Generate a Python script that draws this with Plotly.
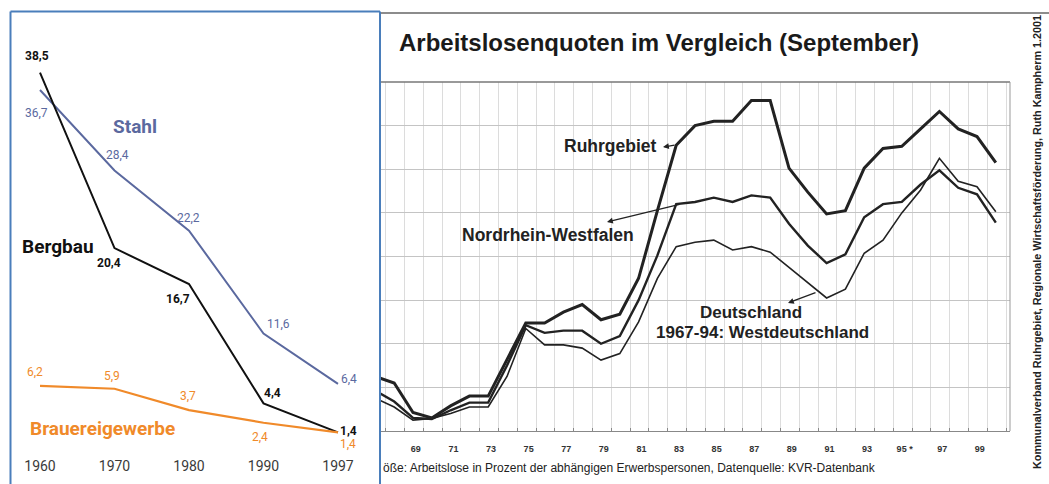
import plotly.graph_objects as go

W, H = 1049, 484

# ---------------- left chart data ----------------
left_years = ["1960", "1970", "1980", "1990", "1997"]
bergbau = [38.5, 20.4, 16.7, 4.4, 1.4]
stahl = [36.7, 28.4, 22.2, 11.6, 6.4]
brauerei = [6.2, 5.9, 3.7, 2.4, 1.4]

# ---------------- right chart data ----------------
years_r = list(range(1967, 2001))
ruhr = [2.5, 2.2, 0.85, 0.6, 1.15, 1.6, 1.6, 3.3, 4.95, 4.95, 5.45, 5.8, 5.1, 5.35,
        7.0, 10.1, 13.1, 14.0, 14.2, 14.2, 15.15, 15.15, 12.05, 10.95, 9.95, 10.1,
        12.05, 12.95, 13.05, 13.85, 14.65, 13.85, 13.5, 12.3]
nrw = [1.85, 1.35, 0.6, 0.55, 0.95, 1.3, 1.3, 3.0, 4.85, 4.5, 4.6, 4.6, 4.0, 4.35,
       6.0, 8.05, 10.4, 10.5, 10.7, 10.5, 10.8, 10.7, 9.5, 8.5, 7.7, 8.1,
       9.8, 10.4, 10.5, 11.3, 11.95, 11.15, 10.85, 9.55]
deutschland = [1.5, 1.1, 0.5, 0.58, 0.8, 1.1, 1.1, 2.5, 4.7, 3.95, 3.95, 3.8, 3.25, 3.55,
               5.0, 7.0, 8.45, 8.65, 8.75, 8.3, 8.45, 8.2, 7.5, 6.8, 6.1, 6.5,
               8.15, 8.75, 10.0, 11.05, 12.5, 11.45, 11.2, 10.05]
tick_years = [1969, 1971, 1973, 1975, 1977, 1979, 1981, 1983, 1985, 1987, 1989,
              1991, 1993, 1995, 1997, 1999]
tick_labels = ["69", "71", "73", "75", "77", "79", "81", "83", "85", "87", "89",
               "91", "93", "95 *", "97", "99"]

BLUE = "#5b699f"
ORANGE = "#f08a2a"
BLACK = "#111111"
DARK = "#222222"

def px(x):
    return x / W

def py(y):
    return 1 - y / H

fig = go.Figure()

# left traces
fig.add_trace(go.Scatter(x=left_years, y=stahl, mode="lines", line=dict(color=BLUE, width=2),
                         xaxis="x", yaxis="y", hoverinfo="skip"))
fig.add_trace(go.Scatter(x=left_years, y=bergbau, mode="lines", line=dict(color=BLACK, width=2),
                         xaxis="x", yaxis="y", hoverinfo="skip"))
fig.add_trace(go.Scatter(x=left_years, y=brauerei, mode="lines", line=dict(color=ORANGE, width=2.2),
                         xaxis="x", yaxis="y", hoverinfo="skip"))

# right traces
fig.add_trace(go.Scatter(x=years_r, y=deutschland, mode="lines", line=dict(color=DARK, width=1.6),
                         xaxis="x2", yaxis="y2", hoverinfo="skip"))
fig.add_trace(go.Scatter(x=years_r, y=nrw, mode="lines", line=dict(color=DARK, width=2.4),
                         xaxis="x2", yaxis="y2", hoverinfo="skip"))
fig.add_trace(go.Scatter(x=years_r, y=ruhr, mode="lines", line=dict(color=DARK, width=3),
                         xaxis="x2", yaxis="y2", hoverinfo="skip"))

LBL = "Roboto, 'Liberation Sans', sans-serif"
ARIAL = "'Liberation Sans', Arial, sans-serif"

ann = []

def dlabel(i, y, text, color, xs, ys):
    # category axis: annotation x uses the category index
    ann.append(dict(x=i, y=y, xref="x", yref="y", text=text, showarrow=False,
                    xshift=xs, yshift=ys, font=dict(family=LBL, size=12, color=color),
                    xanchor="center", yanchor="middle"))

fmt = lambda v: f"{v:.1f}".replace(".", ",")
b_off = [(-3, 17), (-6, -15), (-11, -15), (9, 10), (10, 1)]
s_off = [(-4, -23), (3, 16), (-1, 13), (15, 9), (11, 5)]
r_off = [(-5, 14), (-3, 13), (-1, 14), (-4, -14), (10, -12)]
for i, yr in enumerate(left_years):
    dlabel(i, bergbau[i], "<b>" + fmt(bergbau[i]) + "</b>", BLACK, *b_off[i])
    dlabel(i, stahl[i], fmt(stahl[i]), BLUE, *s_off[i])
    dlabel(i, brauerei[i], fmt(brauerei[i]), ORANGE, *r_off[i])

def ptext(x, y, text, size, color, family=LBL, xanchor="center", angle=0):
    ann.append(dict(x=px(x), y=py(y), xref="paper", yref="paper", text=text, showarrow=False,
                    font=dict(family=family, size=size, color=color), xanchor=xanchor,
                    yanchor="middle", textangle=angle))

ptext(135, 126, "<b>Stahl</b>", 19, BLUE)
ptext(58, 246, "<b>Bergbau</b>", 19, BLACK)
ptext(102, 428, "<b>Brauereigewerbe</b>", 19, ORANGE)

# right side texts
ptext(397, 42, "<b>Arbeitslosenquoten im Vergleich (September)</b>", 24, "#1a1a1a", ARIAL, "left")
ptext(610, 146, "<b>Ruhrgebiet</b>", 17.5, DARK, ARIAL)
ptext(548, 235, "<b>Nordrhein-Westfalen</b>", 17.5, DARK, ARIAL)
ptext(751, 312, "<b>Deutschland</b>", 17, DARK, ARIAL)
ptext(762, 332, "<b>1967-94: Westdeutschland</b>", 17, DARK, ARIAL)
ptext(381, 468, "öße: Arbeitslose in Prozent der abhängigen Erwerbspersonen, Datenquelle: KVR-Datenbank",
      12, DARK, ARIAL, "left")
ptext(1037, 242, "<b>Kommunalverband Ruhrgebiet, Regionale Wirtschaftsförderung, Ruth Kampherm 1.2001</b>",
      10.8, DARK, ARIAL, "center", -90)

def arrow(hx, hy, tx, ty):
    ann.append(dict(x=px(hx), y=py(hy), xref="paper", yref="paper", ax=tx - hx, ay=ty - hy,
                    axref="pixel", ayref="pixel", text="", showarrow=True, arrowhead=2,
                    arrowsize=0.9, arrowwidth=1.3, arrowcolor=DARK))

arrow(663, 147, 676, 145)
arrow(607, 222, 681, 204)
arrow(788, 303, 817, 292)

shapes = [
    # blue frame of left panel
    dict(type="line", xref="paper", yref="paper", x0=px(10.5), x1=px(10.5), y0=py(11.5), y1=py(490),
         line=dict(color="#4a7ebb", width=2), layer="above"),
    dict(type="line", xref="paper", yref="paper", x0=px(10.5), x1=px(380), y0=py(11.5), y1=py(11.5),
         line=dict(color="#4a7ebb", width=2), layer="above"),
    dict(type="line", xref="paper", yref="paper", x0=px(380), x1=px(380), y0=py(11.5), y1=py(490),
         line=dict(color="#4a7ebb", width=2), layer="above"),
    # top border of scanned image
    dict(type="line", xref="paper", yref="paper", x0=px(381), x1=px(1049), y0=py(13), y1=py(13),
         line=dict(color="#666666", width=1.5)),
    # frame of right plot
    dict(type="line", xref="paper", yref="paper", x0=px(381), x1=px(1010), y0=py(82), y1=py(82),
         line=dict(color="#777777", width=1.5)),
    dict(type="line", xref="paper", yref="paper", x0=px(1010), x1=px(1010), y0=py(82), y1=py(431),
         line=dict(color="#999999", width=1)),
]

fig.update_layout(
    width=W, height=H, margin=dict(l=0, r=0, t=0, b=0),
    paper_bgcolor="white", plot_bgcolor="rgba(0,0,0,0)", showlegend=False,
    annotations=ann, shapes=shapes,
    xaxis=dict(domain=[px(10.2), px(367.8)], type="category", range=[-0.4, 4.4],
               showgrid=False, zeroline=False, showline=False,
               ticks="outside", ticklen=7, tickcolor="rgba(0,0,0,0)",
               tickfont=dict(family=LBL, size=14, color="#3a3a3a"), fixedrange=True),
    yaxis=dict(domain=[py(446), py(58)], range=[0, 40], visible=False, fixedrange=True),
    xaxis2=dict(domain=[px(380), px(1010)], range=[1967.245, 2000.755], anchor="y2",
                tickmode="array", tickvals=[y + 0.15 for y in tick_years],
                ticktext=["<b>" + t + "</b>" for t in tick_labels],
                ticks="outside", ticklen=9, tickcolor="rgba(0,0,0,0)",
                tickfont=dict(family=ARIAL, size=9, color="#333333"),
                showgrid=False, zeroline=False, showline=True, linecolor="#888888", linewidth=1.2,
                minor=dict(tick0=1967.55, dtick=1, showgrid=True, gridcolor="#dcdcdc", gridwidth=1,
                           ticks="inside", ticklen=3, tickcolor="#888888"),
                fixedrange=True),
    yaxis2=dict(domain=[py(431), py(82)], range=[0, 16], anchor="x2", dtick=2,
                showgrid=True, gridcolor="#c4c4c4", gridwidth=1.3, zeroline=False,
                showticklabels=False, showline=False, fixedrange=True),
)

fig.write_html("out.html", config={"displayModeBar": False},
               post_script="document.body.style.margin='0px';document.body.style.overflow='hidden';")
